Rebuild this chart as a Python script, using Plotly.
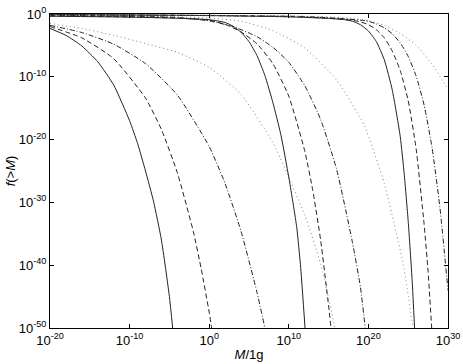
import numpy as np
import plotly.graph_objects as go

# log10(M/1g) and -log10 f(>M)
# Group 1 (left)
g1_solid_x = [-20, -18, -16, -14, -12, -10, -9, -8, -7, -6, -5, -4.59]
g1_solid_y = [2.3, 3.4, 5.1, 7.6, 11.3, 17.0, 20.6, 25.0, 29.8, 36.0, 45.0, 50.0]
g1_dash_x = [-20, -16, -12, -8, -6, -4, -2, -1, 0, 0.31]
g1_dash_y = [2.0, 3.8, 7.1, 13.4, 18.4, 25.3, 34.6, 40.6, 47.5, 50.0]
g1_dashdot_x = [-20, -16, -12, -8, -4, 0, 2, 4, 6, 7.0]
g1_dashdot_y = [1.8, 2.95, 4.8, 7.9, 12.9, 21.1, 27.0, 34.6, 44.3, 50.0]
g1_dot_x = [-20, -16, -12, -8, -4, 0, 4, 8, 12, 14, 15.8]
g1_dot_y = [1.5, 2.3, 3.4, 4.7, 6.1, 8.5, 12.8, 20.5, 32.0, 39.8, 50.0]

# Group 2 (middle)
g2_solid_x = [-20, -10, -4, 0, 2, 3, 4, 5, 6, 7, 8, 9, 10, 11, 11.5, 12.04]
g2_solid_y = [0.35, 0.5, 0.68, 0.9, 1.35, 1.95, 2.9, 4.4, 6.6, 9.8, 14.1, 19.2, 26.0, 34.0, 40.5, 50.0]
g2_dash_x = [-20, -10, -4, 0, 2, 4, 6, 8, 10, 12, 13, 14, 15, 15.3]
g2_dash_y = [0.3, 0.45, 0.65, 1.0, 1.65, 2.85, 4.75, 7.9, 13.1, 21.8, 28.0, 36.0, 46.5, 50.0]
g2_dashdot_x = [-20, -10, -4, 0, 3, 6, 8, 10, 12, 14, 16, 18, 19, 19.6]
g2_dashdot_y = [0.2, 0.35, 0.55, 1.1, 2.0, 3.6, 5.3, 7.7, 11.4, 16.8, 24.7, 36.4, 43.5, 50.0]
g2_dot_x = [-20, -8, 0, 4, 8, 12, 16, 19.5, 22, 24.4, 25.6]
g2_dot_y = [0.15, 0.3, 0.65, 1.15, 2.65, 5.4, 10.5, 17.8, 27.0, 40.0, 50.0]

# Group 3 (right)
g3_solid_x = [-20, 0, 10, 15, 17, 18, 19, 20, 21, 22, 23, 24, 24.5, 25, 25.5, 25.8]
g3_solid_y = [0.1, 0.25, 0.45, 0.7, 0.9, 1.15, 1.7, 2.7, 4.4, 7.3, 12.1, 19.5, 25.5, 33.0, 42.5, 50.0]
g3_dash_x = [-20, 10, 16, 18, 19, 20, 21, 22, 23, 24, 25, 26, 27, 27.5, 27.95]
g3_dash_y = [0.08, 0.4, 0.75, 1.0, 1.25, 1.7, 2.5, 3.8, 5.9, 9.0, 13.8, 21.5, 33.5, 41.0, 50.0]
g3_dashdot_x = [-20, 12, 17, 20, 21, 22, 23, 24, 25, 26, 27, 28, 29, 30]
g3_dashdot_y = [0.06, 0.4, 0.75, 1.15, 1.6, 2.2, 3.15, 4.6, 6.75, 9.9, 14.5, 21.3, 31.0, 44.0]
g3_dot_x = [-20, 14, 18, 20, 22, 24, 26, 28, 30]
g3_dot_y = [0.04, 0.4, 0.7, 1.05, 1.8, 3.1, 5.0, 8.0, 12.0]

x_tick_exp = [-20, -10, 0, 10, 20, 30]
y_tick_exp = [-50, -40, -30, -20, -10, 0]

styles = {
    "solid": dict(color="#222222", width=1, dash="solid"),
    "dash": dict(color="#222222", width=1, dash="5px,3px"),
    "dashdot": dict(color="#222222", width=1, dash="5px,2px,1px,2px"),
    "dot": dict(color="#808080", width=1, dash="1px,3px"),
}

curves = [
    (g1_solid_x, g1_solid_y, "solid"), (g1_dash_x, g1_dash_y, "dash"),
    (g1_dashdot_x, g1_dashdot_y, "dashdot"), (g1_dot_x, g1_dot_y, "dot"),
    (g2_solid_x, g2_solid_y, "solid"), (g2_dash_x, g2_dash_y, "dash"),
    (g2_dashdot_x, g2_dashdot_y, "dashdot"), (g2_dot_x, g2_dot_y, "dot"),
    (g3_solid_x, g3_solid_y, "solid"), (g3_dash_x, g3_dash_y, "dash"),
    (g3_dashdot_x, g3_dashdot_y, "dashdot"), (g3_dot_x, g3_dot_y, "dot"),
]

fig = go.Figure()
for xs, ys, st in curves:
    fig.add_trace(go.Scatter(
        x=10.0 ** np.array(xs, dtype=float),
        y=10.0 ** (-np.array(ys, dtype=float)),
        mode="lines",
        line=dict(shape="spline", smoothing=0.5, **styles[st]),
        showlegend=False, hoverinfo="skip"))

font = dict(family="Liberation Sans, Arial, sans-serif", size=13, color="black")
axis_common = dict(type="log", showgrid=False, zeroline=False, showline=True,
                   linecolor="black", linewidth=1, mirror="ticks",
                   ticks="inside", ticklen=4, tickcolor="black", tickfont=font,
                   automargin=False, ticklabeloverflow="allow")

fig.update_layout(
    width=463, height=364,
    margin=dict(l=50, r=15, t=14, b=36, autoexpand=False),
    paper_bgcolor="white", plot_bgcolor="white",
    font=font,
    xaxis=dict(range=[-20, 30],
               tickvals=[10.0 ** e for e in x_tick_exp],
               ticktext=[f"10<sup>{e}</sup>" for e in x_tick_exp],
               title=dict(text="<i>M</i>/1g", font=font, standoff=3),
               **axis_common),
    yaxis=dict(range=[-50, 0],
               tickvals=[10.0 ** e for e in y_tick_exp],
               ticktext=[f"10<sup>{e}</sup>" for e in y_tick_exp],
               title=dict(text="<i>f</i>(&gt;<i>M</i>)", font=font, standoff=0),
               **axis_common),
)

fig.write_html("out.html", config={"displayModeBar": False},
               post_script="document.body.style.margin='0';")
